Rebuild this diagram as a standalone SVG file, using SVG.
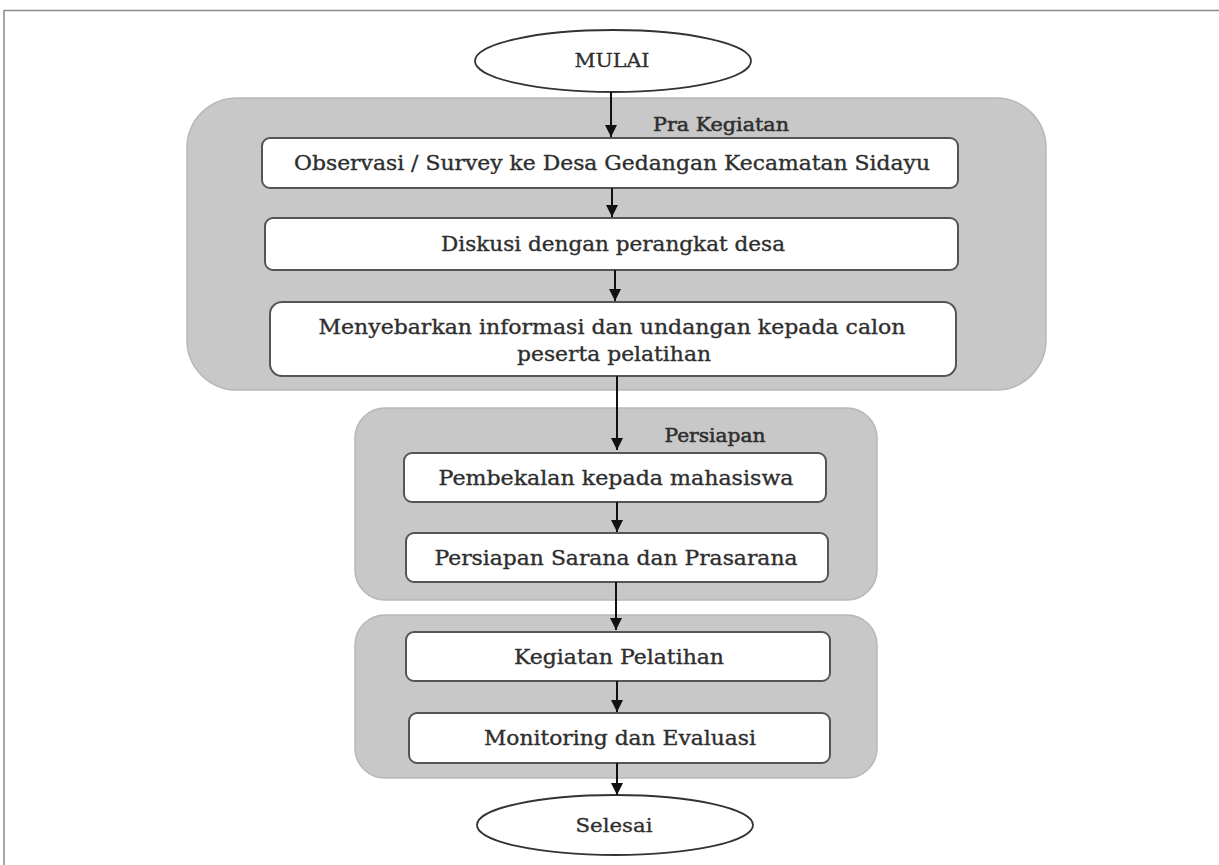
<svg xmlns="http://www.w3.org/2000/svg" width="1219" height="865" viewBox="0 0 1219 865">
  <style>
    .frame { stroke: #8a8a8a; stroke-width: 1.5; fill: none; }
    .group { fill: #c8c8c8; stroke: #b8b8b8; stroke-width: 1.5; }
    .box { fill: #ffffff; stroke: #555555; stroke-width: 2; }
    .term { fill: #ffffff; stroke: #333333; stroke-width: 1.8; }
    .t { font-family: "DejaVu Serif", "Liberation Serif", serif; font-size: 20px; fill: #2e2e2e; stroke: #2e2e2e; stroke-width: 0.35; text-anchor: middle; }
    .lbl { font-family: "DejaVu Serif", "Liberation Serif", serif; font-size: 18px; fill: #2e2e2e; stroke: #2e2e2e; stroke-width: 0.5; text-anchor: middle; }
    .tt { font-family: "DejaVu Serif", "Liberation Serif", serif; font-size: 18px; fill: #2e2e2e; stroke: #2e2e2e; stroke-width: 0.3; text-anchor: middle; }
    .conn { stroke: #111111; stroke-width: 2; fill: none; marker-end: url(#arrow); }
  </style>
  <defs>
    <marker id="arrow" viewBox="0 0 10 10" refX="10" refY="5" markerUnits="userSpaceOnUse" markerWidth="12" markerHeight="13" orient="auto">
      <path d="M0,0 L10,5 L0,10 z" fill="#111111"/>
    </marker>
  </defs>

  <rect width="1219" height="865" fill="#ffffff"/>
  <path class="frame" d="M4,865 L4,10.5 L1219,10.5"/>

  <g id="grp-pra">
    <rect class="group" x="187" y="98" width="859" height="292" rx="50" ry="50"/>
    <text class="lbl" x="721" y="131" textLength="136" lengthAdjust="spacingAndGlyphs">Pra Kegiatan</text>
  </g>
  <g id="grp-persiapan">
    <rect class="group" x="355" y="408" width="522" height="192" rx="30" ry="30"/>
    <text class="lbl" x="715" y="442" textLength="101" lengthAdjust="spacingAndGlyphs">Persiapan</text>
  </g>
  <g id="grp-pelaksanaan">
    <rect class="group" x="355" y="615" width="522" height="163" rx="30" ry="30"/>
  </g>

  <g id="mulai">
    <ellipse class="term" cx="613" cy="61" rx="138" ry="31"/>
    <text class="tt" x="612" y="67" textLength="75" lengthAdjust="spacingAndGlyphs">MULAI</text>
  </g>
  <g id="observasi">
    <rect class="box" x="262" y="138" width="696" height="50" rx="8" ry="8"/>
    <text class="t" x="612" y="170" textLength="636" lengthAdjust="spacingAndGlyphs">Observasi / Survey ke Desa Gedangan Kecamatan Sidayu</text>
  </g>
  <g id="diskusi">
    <rect class="box" x="265" y="218" width="693" height="52" rx="8" ry="8"/>
    <text class="t" x="613" y="251" textLength="344" lengthAdjust="spacingAndGlyphs">Diskusi dengan perangkat desa</text>
  </g>
  <g id="menyebarkan">
    <rect class="box" x="270" y="302" width="686" height="74" rx="12" ry="12"/>
    <text class="t" x="612" y="334" textLength="587" lengthAdjust="spacingAndGlyphs">Menyebarkan informasi dan undangan kepada calon</text>
    <text class="t" x="614" y="361" textLength="194" lengthAdjust="spacingAndGlyphs">peserta pelatihan</text>
  </g>
  <g id="pembekalan">
    <rect class="box" x="404" y="453" width="422" height="49" rx="8" ry="8"/>
    <text class="t" x="616" y="485" textLength="355" lengthAdjust="spacingAndGlyphs">Pembekalan kepada mahasiswa</text>
  </g>
  <g id="sarana">
    <rect class="box" x="406" y="533" width="422" height="49" rx="8" ry="8"/>
    <text class="t" x="616" y="565" textLength="363" lengthAdjust="spacingAndGlyphs">Persiapan Sarana dan Prasarana</text>
  </g>
  <g id="kegiatan">
    <rect class="box" x="406" y="632" width="424" height="49" rx="8" ry="8"/>
    <text class="t" x="619" y="664" textLength="210" lengthAdjust="spacingAndGlyphs">Kegiatan Pelatihan</text>
  </g>
  <g id="monitoring">
    <rect class="box" x="409" y="713" width="421" height="50" rx="8" ry="8"/>
    <text class="t" x="620" y="745" textLength="272" lengthAdjust="spacingAndGlyphs">Monitoring dan Evaluasi</text>
  </g>
  <g id="selesai">
    <ellipse class="term" cx="615" cy="825" rx="138" ry="30"/>
    <text class="tt" x="614" y="832" textLength="77" lengthAdjust="spacingAndGlyphs">Selesai</text>
  </g>

  <g id="connectors">
    <path class="conn" d="M611,92 L611,137"/>
    <path class="conn" d="M612,188 L612,217"/>
    <path class="conn" d="M615,270 L615,301"/>
    <path class="conn" d="M617,376 L617,450"/>
    <path class="conn" d="M617,502 L617,532"/>
    <path class="conn" d="M616,582 L616,630"/>
    <path class="conn" d="M617,681 L617,712"/>
    <path class="conn" d="M617,763 L617,795"/>
  </g>
</svg>
